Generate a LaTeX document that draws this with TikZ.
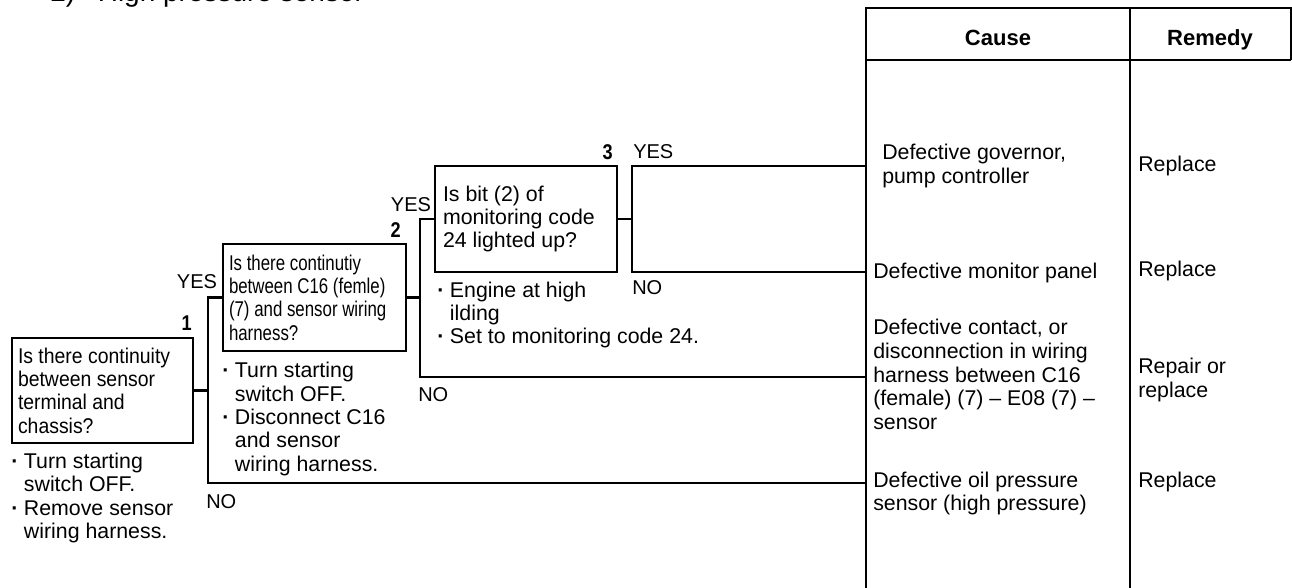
\documentclass[tikz,border=0pt]{standalone}
\usepackage{fontspec}
\setmainfont{Liberation Sans}
\newfontfamily\narrowfont[FakeStretch=0.79]{Liberation Sans}
\newfontfamily\semifont[FakeStretch=0.91]{Liberation Sans}
\newfontfamily\numfont[FakeStretch=0.85]{Liberation Sans}
\newcommand{\itm}{\makebox[9.5pt][l]{\textbf{·}}}
\newcommand{\ind}{\hspace*{9.5pt}}
\newcommand{\natspace}{\spaceskip 0pt\relax}

\begin{document}
\begin{tikzpicture}[x=0.75pt,y=-0.75pt,font=\fontsize{16}{17.6}\selectfont,
  every node/.style={inner sep=0pt,execute at begin node=\natspace},
  qbox/.style={draw,line width=2pt,align=left,inner xsep=4.5pt},
  note/.style={anchor=west,align=left},
  tag/.style={font=\fontsize{15}{18}\selectfont},
  num/.style={anchor=east,font=\numfont\bfseries\fontsize{16}{18}\selectfont},
  link/.style={line width=2pt}]
  \useasboundingbox (0,0) rectangle (1292,587);
  \node[anchor=base west,font=\fontsize{21}{24}\selectfont] (title) at (50,1) {2)\hspace{17pt}High pressure sensor};

  % table
  \coordinate (tab) at (866,8);
  \draw[link] (866,600) -- (tab) -- (1291,8) -- (1291,60);
  \draw[link] (866,60) -- (1291,60);
  \draw[link] (1130,8) -- (1130,600);
  \node[anchor=base,font=\bfseries\fontsize{16.5}{18}\selectfont] (hcause) at (998,45) {Cause};
  \node[anchor=base,font=\bfseries\fontsize{16.5}{18}\selectfont] (hremedy) at (1210,45) {Remedy};

  % questions
  \node[qbox,font=\semifont\fontsize{16}{17.5}\selectfont,text width=126.75pt,minimum height=78.75pt] (q1) at (102.5,390.5)
    {Is there continuity\\between sensor\\terminal and\\chassis?};
  \node[qbox,font=\narrowfont\fontsize{16}{17.5}\selectfont,text width=128.25pt,minimum height=80.25pt] (q2) at (314.5,297.5)
    {Is there continutiy\\between C16 (femle)\\(7) and sensor wiring\\harness?};
  \node[qbox,inner xsep=6pt,text width=124.5pt,minimum height=79.5pt] (q3) at (526,219)
    {Is bit (2) of\\monitoring code\\24 lighted up?};
  \node[num] (k1) at (192,323) {1};
  \node[num] (k2) at (401,230) {2};
  \node[num] (k3) at (613,152) {3};

  \node[note] (n1) at (11,498) {\itm Turn starting\\\ind switch OFF.\\\itm Remove sensor\\\ind wiring harness.};
  \node[note] (n2) at (222,419) {\itm Turn starting\\\ind switch OFF.\\\itm Disconnect C16\\\ind and sensor\\\ind wiring harness.};
  \node[note] (n3) at (437,315) {\itm Engine at high\\\ind ilding\\\itm Set to monitoring code 24.};

  % branches
  \coordinate (ja) at (208,297.5);
  \coordinate (jb) at (208,483);
  \coordinate (jc) at (420,219);
  \coordinate (jd) at (420,377);
  \coordinate (je) at (632,166);
  \coordinate (jf) at (632,272);
  \draw[link] (q1.east) -- (q1.east -| ja);
  \draw[link] (q2.west) -- (ja) -- (jb) -- (jb -| tab);
  \draw[link] (q2.east) -- (q2.east -| jc);
  \draw[link] (q3.west) -- (jc) -- (jd) -- (jd -| tab);
  \draw[link] (q3.east) -- (q3.east -| je);
  \draw[link] (je -| tab) -- (je) -- (jf) -- (jf -| tab);

  \node[tag] (y1) at (197,282) {YES};
  \node[tag] (y2) at (411,205) {YES};
  \node[tag,anchor=west] (y3) at (633,152) {YES};
  \node[tag,anchor=west] (no3) at (632,288) {NO};
  \node[tag,anchor=west] (no2) at (418,395) {NO};
  \node[tag,anchor=west] (no1) at (206,502) {NO};

  % causes and remedies
  \node[note] (c1) at (882,166) {Defective governor,\\pump controller};
  \node[note] (c2) at (873,273) {Defective monitor panel};
  \node[note,font=\fontsize{16}{17.8}\selectfont] (c3) at (873,374.5) {Defective contact, or\\disconnection in wiring\\harness between C16\\(female) (7) -- E08 (7) --\\sensor};
  \node[note] (c4) at (873,493.5) {Defective oil pressure\\sensor (high pressure)};
  \node[note] (r1) at (1138,166) {Replace};
  \node[note] (r2) at (1138,271) {Replace};
  \node[note] (r3) at (1138,380) {Repair or\\replace};
  \node[note] (r4) at (1138,482) {Replace};
\end{tikzpicture}
\end{document}
